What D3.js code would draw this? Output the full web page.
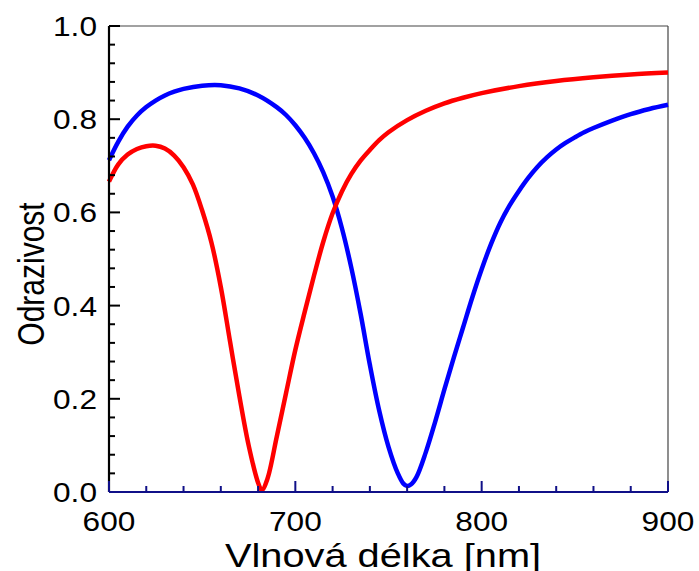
<!DOCTYPE html>
<html>
<head>
<meta charset="utf-8">
<script src="https://cdn.jsdelivr.net/npm/d3@7"></script>
<style>
  body { margin: 0; background: #fff; }
  text { font-family: "Liberation Sans", Arial, sans-serif; fill: #000; }
</style>
</head>
<body>
<div id="chart"></div>
<script>
// wavelengths (nm) and reflectance
const redWl  = [600,605,610,615,620,625,630,635,640,645,650,655,660,665,670,675,680,682,685,690,695,700,705,710,715,720,725,730,735,740,745,750,760,770,780,790,800,820,840,860,880,900];
const redR   = [0.666,0.703,0.724,0.736,0.742,0.743,0.737,0.722,0.697,0.660,0.604,0.535,0.440,0.322,0.205,0.099,0.020,0.004,0.028,0.118,0.212,0.305,0.386,0.464,0.537,0.598,0.645,0.682,0.711,0.734,0.755,0.772,0.798,0.818,0.834,0.846,0.856,0.871,0.882,0.890,0.896,0.900];

const blueWl = [600,605,610,615,620,625,630,635,640,650,660,670,680,690,695,700,705,710,715,720,725,730,735,740,745,750,755,758,760,762,765,770,775,780,785,790,795,800,805,810,815,820,825,830,835,840,845,850,855,860,870,880,890,900];
const blueR  = [0.712,0.752,0.784,0.808,0.826,0.840,0.851,0.859,0.865,0.872,0.873,0.866,0.851,0.826,0.809,0.787,0.760,0.727,0.686,0.634,0.566,0.482,0.383,0.273,0.175,0.097,0.040,0.018,0.013,0.016,0.032,0.085,0.150,0.220,0.288,0.353,0.418,0.478,0.532,0.578,0.615,0.646,0.674,0.698,0.718,0.735,0.749,0.761,0.772,0.781,0.797,0.811,0.822,0.831];

const xTicks = [600,700,800,900];
const yTicks = [0.0,0.2,0.4,0.6,0.8,1.0];

const width = 699, height = 571;
const margin = {left: 109, top: 26, right: 31, bottom: 79};
const w = width - margin.left - margin.right;
const h = height - margin.top - margin.bottom;

const svg = d3.select("#chart").append("svg")
    .attr("width", width)
    .attr("height", height);

const x = d3.scaleLinear().domain([600, 900]).range([margin.left, margin.left + w]);
const y = d3.scaleLinear().domain([0, 1]).range([margin.top + h, margin.top]);

// frame (top + right thin)
svg.append("line")
    .attr("x1", x(600)).attr("x2", x(900))
    .attr("y1", y(1)).attr("y2", y(1))
    .attr("stroke", "#444").attr("stroke-width", 1.2);
svg.append("line")
    .attr("x1", x(900)).attr("x2", x(900))
    .attr("y1", y(1)).attr("y2", y(0))
    .attr("stroke", "#444").attr("stroke-width", 1.2);

// curves
const line = d3.line()
    .x(d => x(d[0]))
    .y(d => y(d[1]))
    .curve(d3.curveCatmullRom.alpha(0.5));

const plot = svg.append("g");
plot.append("path")
    .datum(d3.zip(blueWl, blueR))
    .attr("d", line)
    .attr("fill", "none")
    .attr("stroke", "#0000ff")
    .attr("stroke-width", 4.5);
plot.append("path")
    .datum(d3.zip(redWl, redR))
    .attr("d", line)
    .attr("fill", "none")
    .attr("stroke", "#ff0000")
    .attr("stroke-width", 4.5);

// left axis, ticks inward
const yAxis = svg.append("g")
    .attr("transform", `translate(${x(600)},0)`);
yAxis.append("line")
    .attr("y1", y(0)).attr("y2", y(1))
    .attr("stroke", "#000").attr("stroke-width", 2.2);
yAxis.selectAll(".ytick")
    .data(d3.range(0, 1.0001, 0.04))
    .join("line")
    .attr("x1", 0)
    .attr("x2", d => Math.abs(d * 5 - Math.round(d * 5)) < 1e-6 ? 11 : 6)
    .attr("y1", d => y(d)).attr("y2", d => y(d))
    .attr("stroke", "#000").attr("stroke-width", 2);
yAxis.selectAll(".ylab")
    .data(yTicks)
    .join("text")
    .attr("transform", d => `translate(-12,${y(d)}) scale(1.13,1)`)
    .attr("dy", "0.36em")
    .attr("text-anchor", "end")
    .style("font-size", "28px")
    .text(d => d3.format(".1f")(d));

// bottom axis, navy, ticks inward
const xAxis = svg.append("g")
    .attr("transform", `translate(0,${y(0)})`);
xAxis.append("line")
    .attr("x1", x(600)).attr("x2", x(900))
    .attr("stroke", "#101088").attr("stroke-width", 2.2);
xAxis.selectAll(".xtick")
    .data(d3.range(600, 901, 20))
    .join("line")
    .attr("x1", d => x(d)).attr("x2", d => x(d))
    .attr("y1", 0)
    .attr("y2", d => d % 100 === 0 ? -11 : -6)
    .attr("stroke", "#101088").attr("stroke-width", 2);
xAxis.selectAll(".xlab")
    .data(xTicks)
    .join("text")
    .attr("transform", d => `translate(${x(d)},39) scale(1.13,1)`)
    .attr("text-anchor", "middle")
    .style("font-size", "28px")
    .text(d => d);

// axis titles
svg.append("text")
    .attr("transform", `translate(383,567) scale(1.17,1)`)
    .attr("text-anchor", "middle")
    .style("font-size", "34px")
    .text("Vlnová délka [nm]");

svg.append("text")
    .attr("transform", `translate(44,274) rotate(-90) scale(1,1.25)`)
    .attr("text-anchor", "middle")
    .style("font-size", "30px")
    .text("Odrazivost");
</script>
</body>
</html>
